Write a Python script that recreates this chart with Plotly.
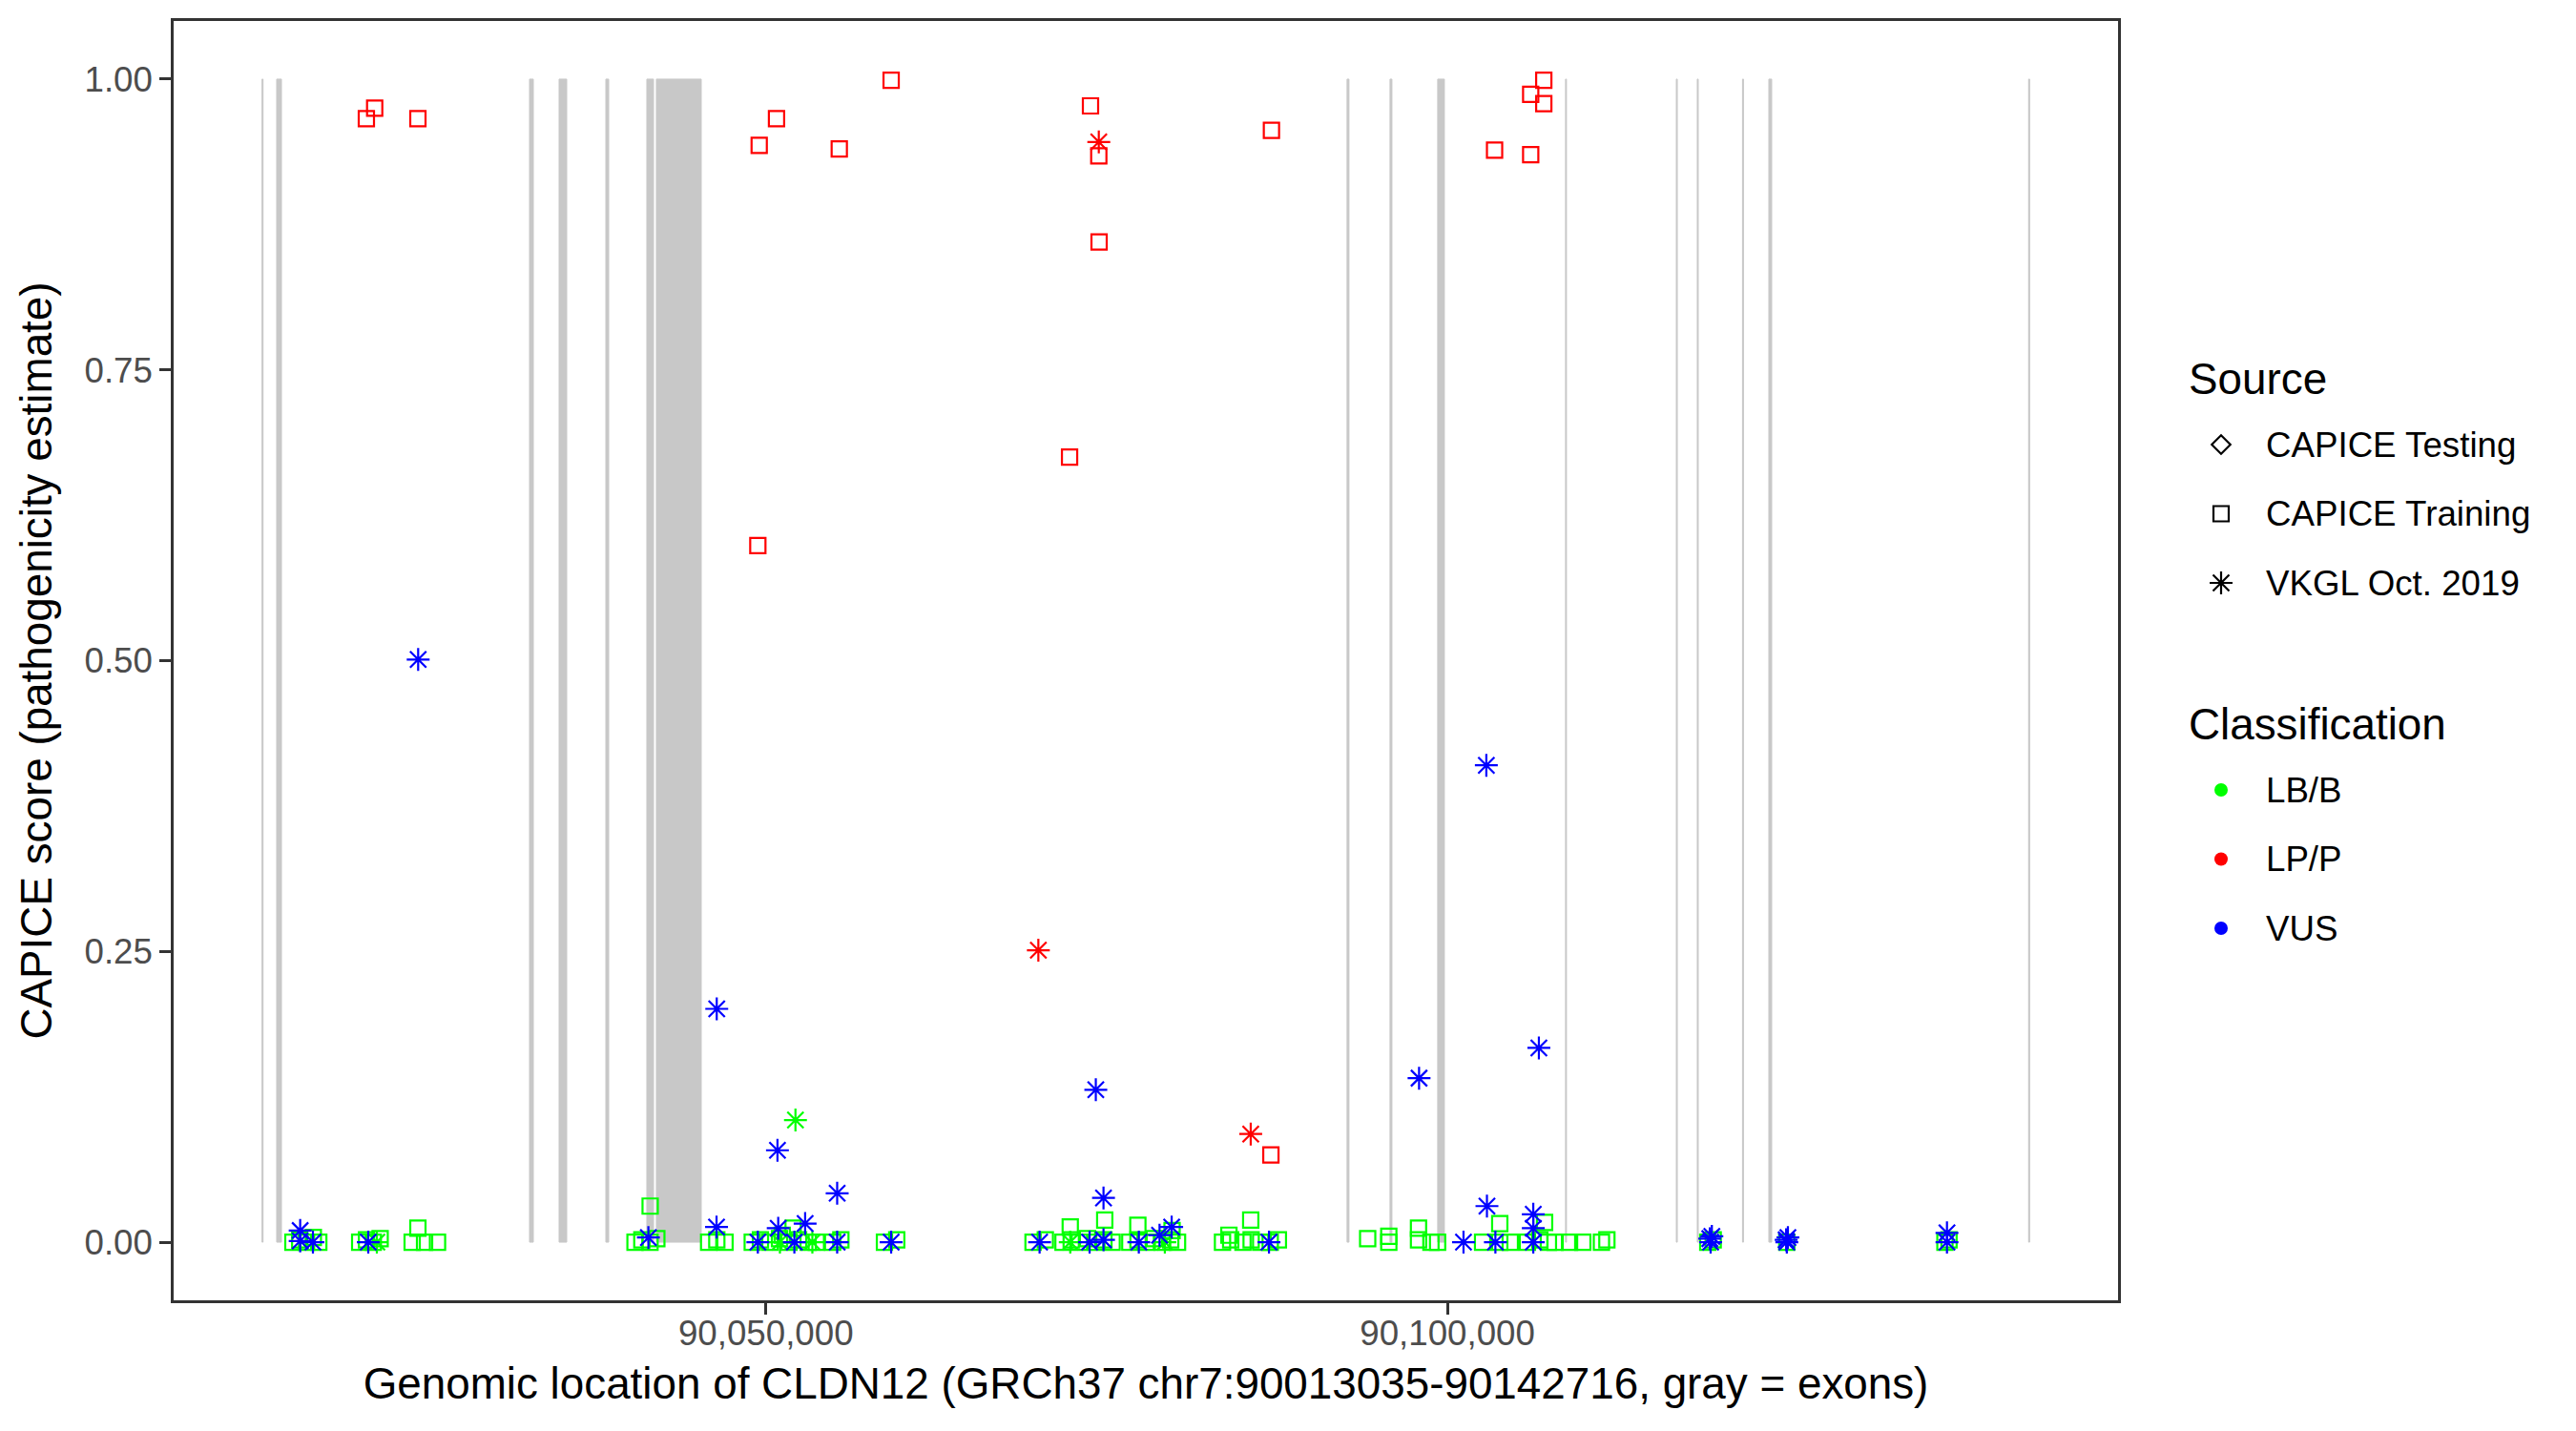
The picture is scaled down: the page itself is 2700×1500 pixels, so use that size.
import plotly.graph_objects as go

# ---------------- data ----------------
gene_start, gene_end = 90013035, 90142716

exon_start = [90013035, 90014110, 90032658, 90034828, 90038258, 90041267, 90041967,
              90092639, 90095789, 90099288, 90108665, 90116795, 90118330, 90121650,
              90123580, 90142640]
exon_end = [90013110, 90014460, 90032938, 90035388, 90038468, 90041757, 90045257,
            90092779, 90095929, 90099778, 90108735, 90116865, 90118400, 90121720,
            90123790, 90142716]

# CAPICE Training, LB/B
train_lbb_pos = [90015300, 90015800, 90016300, 90016800, 90017200,
                 90020200, 90020700, 90021200, 90021700,
                 90024470, 90024050, 90024960, 90025910,
                 90041510, 90040400, 90040900, 90041500, 90042000,
                 90045800, 90046400, 90047000,
                 90049000, 90049600, 90050300, 90051000, 90051700, 90052400, 90053100, 90053700, 90052000, 90051200,
                 90054900, 90055500,
                 90058700, 90059600,
                 90069600, 90070500,
                 90071800, 90072400, 90073000, 90073600, 90074200, 90074800, 90075400, 90072330, 90074860,
                 90076700, 90077300, 90077900, 90078500, 90079100, 90079700, 90080200, 90077290, 90079800,
                 90083500, 90084100, 90085000, 90085600, 90086300, 90087000, 90087600, 90083970, 90085570,
                 90094150, 90095700, 90095700, 90097880, 90097880, 90098790, 90099280,
                 90102580, 90103840, 90104610, 90103840,
                 90105870, 90106780, 90107410, 90107900, 90107130,
                 90108960, 90109930, 90111300, 90111700,
                 90119100, 90119500, 90124900, 90136500, 90136800]
train_lbb_score = [0.0, 0.002, 0.0, 0.004, 0.0,
                   0.0, 0.002, 0.0, 0.003,
                   0.012, 0.0, 0.0, 0.0,
                   0.031, 0.0, 0.002, 0.0, 0.003,
                   0.0, 0.002, 0.0,
                   0.0, 0.002, 0.0, 0.003, 0.0, 0.002, 0.0, 0.0, 0.012, 0.006,
                   0.0, 0.002,
                   0.0, 0.002,
                   0.0, 0.002,
                   0.0, 0.002, 0.0, 0.003, 0.0, 0.002, 0.0, 0.013, 0.019,
                   0.0, 0.002, 0.0, 0.003, 0.0, 0.002, 0.0, 0.0145, 0.010,
                   0.0, 0.002, 0.0, 0.002, 0.0, 0.0, 0.002, 0.006, 0.019,
                   0.003, 0.005, 0.0, 0.012, 0.002, 0.0, 0.0,
                   0.0, 0.0, 0.0, 0.016,
                   0.0, 0.002, 0.0, 0.0, 0.017,
                   0.0, 0.0, 0.0, 0.002,
                   0.0, 0.002, 0.0, 0.0, 0.002]

# VKGL Oct. 2019, LB/B
vkgl_lbb_pos = [90052170, 90021460, 90072330, 90051030, 90053410, 90079270]
vkgl_lbb_score = [0.105, 0.0, 0.0, 0.0, 0.0, 0.0]

# CAPICE Training, LP/P
train_lpp_pos = [90020690, 90021300, 90024470, 90049510, 90050780, 90055385, 90059190,
                 90049410, 90072280, 90073816, 90074424, 90074445, 90087090, 90087050,
                 90103460, 90106110, 90107070, 90107070, 90106110]
train_lpp_score = [0.966, 0.975, 0.966, 0.943, 0.966, 0.940, 0.999,
                   0.599, 0.675, 0.977, 0.934, 0.860, 0.956, 0.075,
                   0.939, 0.987, 0.999, 0.979, 0.935]

# VKGL Oct. 2019, LP/P
vkgl_lpp_pos = [90074424, 90069990, 90085570]
vkgl_lpp_score = [0.946, 0.251, 0.093]

# VKGL Oct. 2019, VUS
vkgl_vus_pos = [90024490, 90046395, 90050850, 90055230, 90074205, 90074770, 90102855,
                90097920, 90106710, 90102900, 90106300, 90106300, 90015834, 90046380,
                90050905, 90052880, 90079770, 90136650,
                90015834, 90016770, 90020830, 90041380, 90049410, 90052090, 90055230,
                90059190, 90070080, 90073750, 90074770, 90077360, 90078880, 90086910,
                90101180, 90103520, 90106300, 90119310, 90119250, 90119400, 90124900,
                90124850, 90124980, 90136650]
vkgl_vus_score = [0.501, 0.2006, 0.079, 0.042, 0.131, 0.038, 0.410,
                  0.141, 0.167, 0.031, 0.024, 0.012, 0.010, 0.013,
                  0.012, 0.016, 0.013, 0.008,
                  0.001, 0.0, 0.0, 0.004, 0.0, 0.0, 0.0,
                  0.0, 0.0, 0.0, 0.002, 0.0, 0.006, 0.0,
                  0.0, 0.0, 0.0, 0.0, 0.003, 0.005, 0.0,
                  0.002, 0.004, 0.0]

x_tick_vals = [90050000, 90100000]
y_tick_vals = [0, 0.25, 0.5, 0.75, 1.0]
y_tick_text = ["0.00", "0.25", "0.50", "0.75", "1.00"]

source_labels = ["CAPICE Testing", "CAPICE Training", "VKGL Oct. 2019"]
class_labels = ["LB/B", "LP/P", "VUS"]

x_title = "Genomic location of CLDN12 (GRCh37 chr7:90013035-90142716, gray = exons)"
y_title = "CAPICE score (pathogenicity estimate)"

# ---------------- styles ----------------
W, H = 2700, 1500
PL, PR, PT, PB = 182, 2220, 22, 1363
FONT = "Liberation Sans, Arial, Helvetica, sans-serif"
TICK_SIZE = 36.7
TITLE_SIZE = 45.8
class_color = {"LB/B": "#00FF00", "LP/P": "#FF0000", "VUS": "#0000FF"}
source_symbol = {"CAPICE Testing": "diamond-open", "CAPICE Training": "square-open",
                 "VKGL Oct. 2019": "asterisk-open"}
symbol_size = {"diamond-open": 15, "square-open": 16, "asterisk-open": 20}
EXON_COLOR = "#C8C8C8"

pad = 0.05 * (gene_end - gene_start)
x_range = [gene_start - pad, gene_end + pad]
y_range = [-0.05, 1.05]

fig = go.Figure()

groups = [
    (train_lbb_pos, train_lbb_score, "CAPICE Training", "LB/B"),
    (vkgl_lbb_pos, vkgl_lbb_score, "VKGL Oct. 2019", "LB/B"),
    (train_lpp_pos, train_lpp_score, "CAPICE Training", "LP/P"),
    (vkgl_lpp_pos, vkgl_lpp_score, "VKGL Oct. 2019", "LP/P"),
    (vkgl_vus_pos, vkgl_vus_score, "VKGL Oct. 2019", "VUS"),
]
for xs, ys, src, cls in groups:
    sym = source_symbol[src]
    fig.add_trace(go.Scatter(
        x=xs, y=ys, mode="markers", name=f"{src} / {cls}", showlegend=False,
        marker=dict(symbol=sym, size=symbol_size[sym], color=class_color[cls],
                    line=dict(width=2.2, color=class_color[cls])),
        xaxis="x", yaxis="y", cliponaxis=False))

# exons
for s, e in zip(exon_start, exon_end):
    fig.add_shape(type="rect", xref="x", yref="y", x0=s, x1=e, y0=0, y1=1,
                  fillcolor=EXON_COLOR, line=dict(width=1, color=EXON_COLOR), layer="below")

# ---------------- legend (drawn on a pixel-space overlay axis) ----------------
LEG_X_KEY = 2328
LEG_X_TEXT = 2373
LEG_X_TITLE = 2292
src_title_y = 397
src_item_y0 = 466
cls_title_y = 759
cls_item_y0 = 828
ITEM_STEP = 72.5

src_y = [src_item_y0 + i * ITEM_STEP for i in range(len(source_labels))]
cls_y = [cls_item_y0 + i * ITEM_STEP for i in range(len(class_labels))]

for lab, yy in zip(source_labels, src_y):
    sym = source_symbol[lab]
    fig.add_trace(go.Scatter(
        x=[LEG_X_KEY], y=[yy], mode="markers", name=lab, showlegend=False,
        marker=dict(symbol=sym, size=symbol_size[sym], color="black",
                    line=dict(width=2.2, color="black")),
        xaxis="x2", yaxis="y2", hoverinfo="skip"))
    fig.add_annotation(x=LEG_X_TEXT, y=yy, xref="x2", yref="y2", text=lab,
                       showarrow=False, xanchor="left", yanchor="middle",
                       font=dict(family=FONT, size=TICK_SIZE, color="black"))
for lab, yy in zip(class_labels, cls_y):
    fig.add_trace(go.Scatter(
        x=[LEG_X_KEY], y=[yy], mode="markers", name=lab, showlegend=False,
        marker=dict(symbol="circle", size=14, color=class_color[lab]),
        xaxis="x2", yaxis="y2", hoverinfo="skip"))
    fig.add_annotation(x=LEG_X_TEXT, y=yy, xref="x2", yref="y2", text=lab,
                       showarrow=False, xanchor="left", yanchor="middle",
                       font=dict(family=FONT, size=TICK_SIZE, color="black"))
for lab, yy in (("Source", src_title_y), ("Classification", cls_title_y)):
    fig.add_annotation(x=LEG_X_TITLE, y=yy, xref="x2", yref="y2", text=lab,
                       showarrow=False, xanchor="left", yanchor="middle",
                       font=dict(family=FONT, size=TITLE_SIZE, color="black"))

axis_common = dict(showgrid=False, zeroline=False, showline=True, mirror=True,
                   linecolor="#333333", linewidth=2.5, ticks="outside", ticklen=12,
                   tickwidth=2.5, tickcolor="#333333",
                   tickfont=dict(family=FONT, size=TICK_SIZE, color="#4D4D4D"))

fig.update_layout(
    width=W, height=H, autosize=False,
    margin=dict(l=0, r=0, t=0, b=0),
    paper_bgcolor="white", plot_bgcolor="rgba(0,0,0,0)",
    font=dict(family=FONT, color="black"),
    xaxis=dict(domain=[PL / W, PR / W], range=x_range, tickvals=x_tick_vals,
               tickformat=",d", anchor="y", ticklabelstandoff=-12,
               title=dict(text=x_title, font=dict(family=FONT, size=TITLE_SIZE, color="black"),
                          standoff=18),
               **axis_common),
    yaxis=dict(domain=[1 - PB / H, 1 - PT / H], range=y_range, tickvals=y_tick_vals,
               ticktext=y_tick_text, anchor="x",
               title=dict(text=y_title, font=dict(family=FONT, size=TITLE_SIZE, color="black"),
                          standoff=20),
               **axis_common),
    xaxis2=dict(domain=[0, 1], range=[0, W], visible=False, anchor="y2", fixedrange=True),
    yaxis2=dict(domain=[0, 1], range=[H, 0], visible=False, anchor="x2", fixedrange=True),
    showlegend=False,
)

fig.write_html("out.html", config={"displayModeBar": False},
               post_script="document.body.style.margin='0';document.body.style.overflow='hidden';")
